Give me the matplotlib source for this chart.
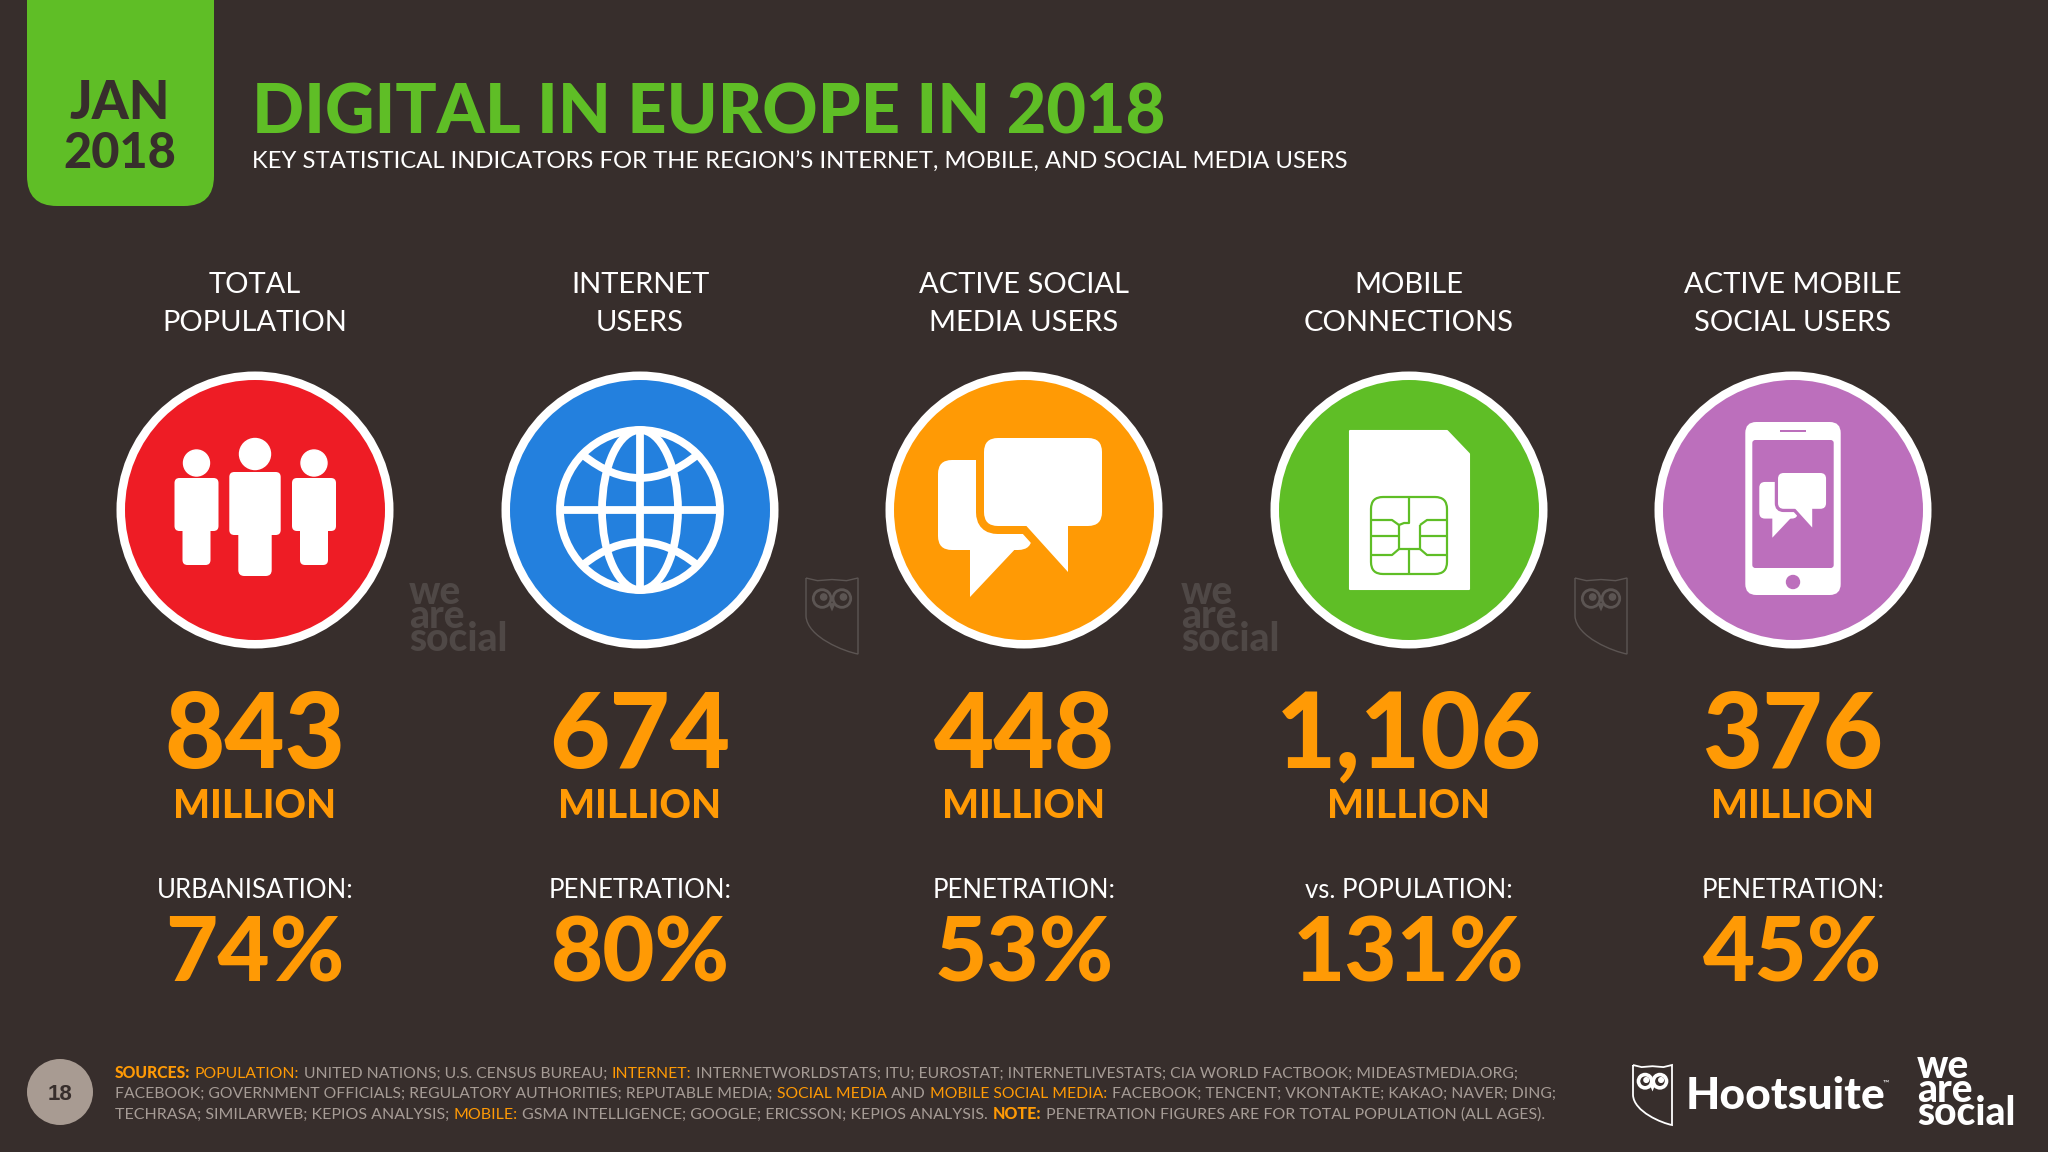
import numpy as np

import matplotlib
matplotlib.use('Agg')
from matplotlib import pyplot as plt
from matplotlib.patches import Circle, Ellipse, FancyBboxPatch, PathPatch, Polygon, Rectangle
from matplotlib.path import Path

#-------------------------------------------------

column_heads  = [('TOTAL', 'POPULATION'), ('INTERNET', 'USERS'), ('ACTIVE SOCIAL', 'MEDIA USERS'),
                 ('MOBILE', 'CONNECTIONS'), ('ACTIVE MOBILE', 'SOCIAL USERS')]
big_numbers   = ['843', '674', '448', '1,106', '376']
unit_label    = 'MILLION'
ratio_labels  = ['URBANISATION:', 'PENETRATION:', 'PENETRATION:', 'vs. POPULATION:', 'PENETRATION:']
ratio_values  = ['74%', '80%', '53%', '131%', '45%']

title_text = 'DIGITAL IN EUROPE IN 2018'
subtitle   = 'KEY STATISTICAL INDICATORS FOR THE REGION\u2019S INTERNET, MOBILE, AND SOCIAL MEDIA USERS'

### (text, kind) : n = plain, o = orange, b = bold orange
source_lines = [
    [('SOURCES:', 'b'), ('POPULATION:', 'o'), ('UNITED NATIONS; U.S. CENSUS BUREAU;', 'n'), ('INTERNET:', 'o'),
     ('INTERNETWORLDSTATS; ITU; EUROSTAT; INTERNETLIVESTATS; CIA WORLD FACTBOOK; MIDEASTMEDIA.ORG;', 'n')],
    [('FACEBOOK; GOVERNMENT OFFICIALS; REGULATORY AUTHORITIES; REPUTABLE MEDIA;', 'n'), ('SOCIAL MEDIA', 'o'), ('AND', 'n'),
     ('MOBILE SOCIAL MEDIA:', 'o'), ('FACEBOOK; TENCENT; VKONTAKTE; KAKAO; NAVER; DING;', 'n')],
    [('TECHRASA; SIMILARWEB; KEPIOS ANALYSIS;', 'n'), ('MOBILE:', 'o'), ('GSMA INTELLIGENCE; GOOGLE; ERICSSON; KEPIOS ANALYSIS.', 'n'),
     ('NOTE:', 'b'), ('PENETRATION FIGURES ARE FOR TOTAL POPULATION (ALL AGES).', 'n')],
]

#-------------------------------------------------

BG     = '#372E2C'
GREEN  = '#5FBE26'
ORANGE = '#FF9A05'
WHITE  = '#FFFFFF'
GREY   = '#A69C96'
FAINT  = '#4F4846'
circle_colours = ['#EE1C25', '#2380DE', '#FF9A05', '#5FBE26', '#BC6FBC']
centres = [255, 640, 1024, 1409, 1793]
CY = 510

plt.rcParams['font.family'] = ['Lato', 'DejaVu Sans']

fig = plt.figure(figsize=(20.48, 11.52), dpi=100, facecolor=BG)
ax = fig.add_axes([0, 0, 1, 1])
ax.set_xlim(0, 2048)
ax.set_ylim(1152, 0)
ax.axis('off')

def rbox(x0, y0, x1, y1, r, color, z=3, **kw):
    p = FancyBboxPatch((x0, y0), x1-x0, y1-y0, boxstyle='round,pad=0,rounding_size=%f'%r,
                       facecolor=color, edgecolor='none', zorder=z, **kw)
    ax.add_patch(p)
    return p

def rect(x0, y0, x1, y1, color, z=3):
    ax.add_patch(Rectangle((x0, y0), x1-x0, y1-y0, facecolor=color, edgecolor='none', zorder=z))

def poly(pts, color, z=3, **kw):
    ax.add_patch(Polygon(pts, closed=True, facecolor=color, edgecolor=kw.pop('edgecolor', 'none'), zorder=z, **kw))

def people(cx, cy):
    for dx in (-58.5, 59):
        ax.add_patch(Circle((cx+dx, cy-47), 13, color=WHITE, zorder=3))
        rbox(cx+dx-22, cy-32, cx+dx+22, cy+21, 5, WHITE)
        rbox(cx+dx-14, cy+13, cx+dx+14, cy+55, 5, WHITE)
    ax.add_patch(Circle((cx, cy-56), 15.5, color=WHITE, zorder=3))
    rbox(cx-25.7, cy-38, cx+25.7, cy+25, 5, WHITE)
    rbox(cx-16.7, cy+15, cx+16.7, cy+66, 6, WHITE)

def globe(cx, cy):
    lw = 5.6
    ax.add_patch(Circle((cx, cy), 80, fill=False, edgecolor=WHITE, lw=lw, zorder=3))
    ax.add_patch(Ellipse((cx, cy), 76, 160, fill=False, edgecolor=WHITE, lw=lw, zorder=3))
    ax.plot([cx, cx], [cy-80, cy+80], color=WHITE, lw=lw, zorder=3, solid_capstyle='butt')
    ax.plot([cx-80, cx+80], [cy, cy], color=WHITE, lw=lw, zorder=3, solid_capstyle='butt')
    for sgn in (-1, 1):
        path = Path([(cx-57, cy+sgn*55), (cx, cy+sgn*9), (cx+57, cy+sgn*55)], [Path.MOVETO, Path.CURVE3, Path.CURVE3])
        ax.add_patch(PathPatch(path, fill=False, edgecolor=WHITE, lw=lw, zorder=3))

def bubbles(ox, oy, s, bg, z=3):
    ### coordinates relative to (ox, oy), scaled by s
    def X(v): return ox+s*v
    def Y(v): return oy+s*v
    rbox(X(-86), Y(-50), X(8), Y(40), 14*s, WHITE, z=z)
    poly([(X(-54), Y(35)), (X(-54), Y(87)), (X(-5), Y(35))], WHITE, z=z)
    gap = 16*s*0.72
    p = rbox(X(-40), Y(-72), X(78), Y(16), 14*s, bg, z=z+1)
    p.set_edgecolor(bg)
    p.set_linewidth(gap)
    poly([(X(-3), Y(10)), (X(44), Y(62)), (X(44), Y(10))], bg, z=z+1, edgecolor=bg, linewidth=gap)
    rbox(X(-40), Y(-72), X(78), Y(16), 14*s, WHITE, z=z+2)
    poly([(X(-3), Y(10)), (X(44), Y(62)), (X(44), Y(10))], WHITE, z=z+2)

def sim(cx, cy, col):
    pts = [(cx-59, cy-79), (cx+38, cy-79), (cx+60, cy-56), (cx+60, cy+79), (cx-59, cy+79)]
    poly(pts, WHITE, edgecolor=WHITE, linewidth=1.5, joinstyle='round')
    chip = FancyBboxPatch((cx-38, cy-13), 76, 77, boxstyle='round,pad=0,rounding_size=12',
                          facecolor=WHITE, edgecolor=col, lw=1.6, zorder=4)
    ax.add_patch(chip)
    segs = [[(0, -13), (0, 13), (-5, 13), (-10, 15), (-10, 39), (-5, 39), (0, 39), (0, 64)],
            [(-38, 10), (-17, 10), (-10, 15)],
            [(-38, 26), (-10, 26)],
            [(-38, 45), (-17, 45), (-10, 39)],
            [(11, 15), (11, 39), (0, 39)],
            [(38, 10), (18, 10), (11, 15)],
            [(38, 26), (11, 26)],
            [(38, 45), (18, 45), (11, 39)]]
    for seg in segs:
        seg = np.array(seg, dtype=float)
        ax.plot(cx+seg[:,0], cy+seg[:,1], color=col, lw=1.6, zorder=5, solid_capstyle='butt')

def phone(cx, cy, col):
    rbox(cx-47.7, cy-88, cx+47.7, cy+85, 11, WHITE)
    rbox(cx-40.7, cy-70, cx+40.7, cy+58, 3, col, z=3.5)
    rect(cx-13, cy-80, cx+13, cy-78, col, z=4)
    ax.add_patch(Circle((cx, cy+72), 6.5, color=col, zorder=4))
    bubbles(cx+1.3, cy-7.7, 0.407, col, z=4)

def owl(x0, y0, x1, y1, color, lw, z=2):
    w, h = x1-x0, y1-y0
    verts = [(x0, y0), (x0+.22*w, y0+.035*h), (x0+.5*w, y0+.02*h), (x0+.78*w, y0+.035*h), (x1, y0),
             (x1, y1), (x1-.25*w, y1-.03*h), (x0+.02*w, y1-.22*h), (x0, y0+.5*h), (x0, y0)]
    codes = [Path.MOVETO, Path.LINETO, Path.LINETO, Path.LINETO, Path.LINETO,
             Path.LINETO, Path.CURVE4, Path.CURVE4, Path.CURVE4, Path.LINETO]
    ax.add_patch(PathPatch(Path(verts, codes), fill=False, edgecolor=color, lw=lw, zorder=z))
    r = .17*w
    for fx in (.31, .69):
        ax.add_patch(Circle((x0+fx*w, y0+.27*h), r, fill=False, edgecolor=color, lw=lw*2.0, zorder=z))
        ax.add_patch(Circle((x0+fx*w+.03*w, y0+.25*h), .06*w, color=color, zorder=z))
    poly([(x0+.43*w, y0+.33*h), (x0+.57*w, y0+.33*h), (x0+.5*w, y0+.44*h)], color, z=z)

def we_are_social(x, baseline, color, size):
    ax.text(x, baseline, 'we\nare\nsocial', color=color, fontsize=size, fontweight='black',
            ha='left', va='baseline', linespacing=0.55, zorder=2)

def source_line(x, yb, runs, size):
    renderer = fig.canvas.get_renderer()
    style = {'n': (GREY, 'normal'), 'o': (ORANGE, 'normal'), 'b': (ORANGE, 'black')}
    for text, kind in runs:
        col, wt = style[kind]
        t = ax.text(x, yb, text, color=col, fontsize=size, fontweight=wt, ha='left', va='baseline')
        x += t.get_window_extent(renderer).width + 4.5

#-------------------------------------------------

### header
rbox(27, -60, 214, 206, 30, GREEN, z=1)
ax.text(120, 119, 'JAN', color=BG, fontsize=38, fontweight='black', ha='center', va='baseline')
ax.text(120, 168, '2018', color=BG, fontsize=35, fontweight='black', ha='center', va='baseline')
ax.text(252, 133, title_text, color=GREEN, fontsize=49.3, fontweight='black', ha='left', va='baseline')
ax.text(252, 169, subtitle, color=WHITE, fontsize=17.2, fontweight='normal', ha='left', va='baseline')

### columns
for i, cx in enumerate(centres):
    col = circle_colours[i]
    ax.text(cx, 293, column_heads[i][0], color=WHITE, fontsize=21, ha='center', va='baseline')
    ax.text(cx, 331, column_heads[i][1], color=WHITE, fontsize=21, ha='center', va='baseline')

    ax.add_patch(Circle((cx, CY), 138.5, facecolor=WHITE, edgecolor='none', zorder=1))
    ax.add_patch(Circle((cx, CY), 130, facecolor=col, edgecolor='none', zorder=2))

    ax.text(cx, 768, big_numbers[i], color=ORANGE, fontsize=75, fontweight='black', ha='center', va='baseline')
    ax.text(cx, 818, unit_label, color=ORANGE, fontsize=28, fontweight='black', ha='center', va='baseline')
    ax.text(cx, 898, ratio_labels[i], color=WHITE, fontsize=18.5, ha='center', va='baseline')
    ax.text(cx, 982, ratio_values[i], color=ORANGE, fontsize=65, fontweight='black', ha='center', va='baseline')

people(centres[0], CY)
globe(centres[1], CY)
bubbles(centres[2], CY, 1.0, circle_colours[2])
sim(centres[3], CY, circle_colours[3])
phone(centres[4], CY, circle_colours[4])

### watermarks
for x in (409, 1181):
    we_are_social(x, 651, FAINT, 28)
for x in (806, 1575):
    owl(x, 578, x+52, 654, '#5C5553', 1.0)

### footer
ax.add_patch(Circle((60, 1092), 33, facecolor='#A89B92', edgecolor='none', zorder=1))
ax.text(60, 1100, '18', color=BG, fontsize=16, fontweight='bold', ha='center', va='baseline', family='Liberation Sans')

for yb, runs, size in zip((1078, 1098, 1119), source_lines, (11.35, 11.35, 11.55)):
    source_line(115, yb, runs, size)

owl(1633, 1065, 1672, 1125, WHITE, 1.3, z=3)
ax.text(1686, 1109, 'Hootsuite', color=WHITE, fontsize=32, fontweight='black', ha='left', va='baseline')
ax.text(1883, 1086, '\u2122', color=WHITE, fontsize=6, ha='left', va='baseline')
we_are_social(1917, 1125, WHITE, 28)

fig.savefig('out.png', dpi=100, facecolor=BG)
plt.close(fig)
